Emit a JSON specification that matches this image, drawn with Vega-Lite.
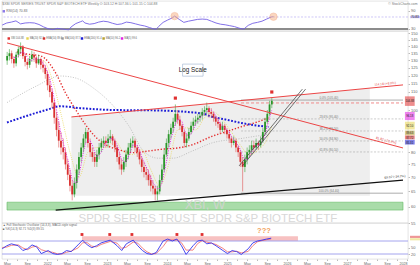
{
"$schema": "https://vega.github.io/schema/vega-lite/v6.json",
"padding": 0,
"background": "white",
"spacing": 0,
"bounds": "flush",
"config": {"view": {"stroke": "#d0d0d0", "strokeWidth": 0.6}, "axis": {"labelFont": "Liberation Sans", "labelFontSize": 4, "labelColor": "#666", "tickSize": 1.5, "tickColor": "#bbb", "domain": false, "grid": false, "labelPadding": 1}, "text": {"font": "Liberation Sans"}},
"datasets": {
"candles": [
{"d":"2021-04-02","o":130,"h":136,"l":127,"c":133},
{"d":"2021-04-16","o":133,"h":138,"l":130,"c":135},
{"d":"2021-04-30","o":135,"h":137,"l":128,"c":131},
{"d":"2021-05-14","o":131,"h":133,"l":125,"c":128,"m":132},
{"d":"2021-05-28","o":128,"h":136,"l":126,"c":134,"m":132},
{"d":"2021-06-11","o":134,"h":140,"l":132,"c":138,"m":133},
{"d":"2021-06-25","o":138,"h":143,"l":135,"c":140,"m":135},
{"d":"2021-07-09","o":140,"h":141,"l":131,"c":133,"m":136},
{"d":"2021-07-23","o":133,"h":135,"l":126,"c":129,"m":135},
{"d":"2021-08-06","o":129,"h":131,"l":124,"c":127,"m":132},
{"d":"2021-08-20","o":127,"h":133,"l":125,"c":131,"m":130},
{"d":"2021-09-03","o":131,"h":137,"l":129,"c":134,"m":130},
{"d":"2021-09-17","o":134,"h":136,"l":129,"c":132,"m":131},
{"d":"2021-10-01","o":132,"h":133,"l":125,"c":128,"m":131},
{"d":"2021-10-15","o":128,"h":134,"l":127,"c":131,"m":131},
{"d":"2021-10-29","o":131,"h":132,"l":124,"c":127,"m":130},
{"d":"2021-11-12","o":127,"h":130,"l":122,"c":125,"m":128},
{"d":"2021-11-26","o":125,"h":127,"l":118,"c":121,"m":126},
{"d":"2021-12-10","o":121,"h":123,"l":111,"c":114,"m":122},
{"d":"2021-12-24","o":114,"h":117,"l":107,"c":110,"m":118},
{"d":"2022-01-07","o":110,"h":112,"l":101,"c":104,"m":112},
{"d":"2022-01-21","o":104,"h":106,"l":93,"c":96,"m":106},
{"d":"2022-02-04","o":96,"h":99,"l":87,"c":90,"m":100},
{"d":"2022-02-18","o":90,"h":94,"l":82,"c":85,"m":94},
{"d":"2022-03-04","o":85,"h":89,"l":79,"c":82,"m":88},
{"d":"2022-03-18","o":82,"h":86,"l":77,"c":80,"m":84},
{"d":"2022-04-01","o":80,"h":82,"l":73,"c":75,"m":80},
{"d":"2022-04-15","o":75,"h":77,"l":69,"c":71,"m":77},
{"d":"2022-04-29","o":71,"h":73,"l":65,"c":67,"m":73},
{"d":"2022-05-13","o":67,"h":69,"l":62,"c":64,"m":69},
{"d":"2022-05-27","o":64,"h":70,"l":63,"c":68,"m":68},
{"d":"2022-06-10","o":68,"h":75,"l":66,"c":73,"m":68},
{"d":"2022-06-24","o":73,"h":80,"l":71,"c":78,"m":71},
{"d":"2022-07-08","o":78,"h":84,"l":76,"c":82,"m":75},
{"d":"2022-07-22","o":82,"h":88,"l":80,"c":86,"m":80},
{"d":"2022-08-05","o":86,"h":91,"l":84,"c":89,"m":84},
{"d":"2022-08-19","o":89,"h":90,"l":82,"c":84,"m":85},
{"d":"2022-09-02","o":84,"h":86,"l":78,"c":80,"m":85},
{"d":"2022-09-16","o":80,"h":82,"l":76,"c":78,"m":83},
{"d":"2022-09-30","o":78,"h":80,"l":74,"c":76,"m":80},
{"d":"2022-10-14","o":76,"h":81,"l":74,"c":79,"m":78},
{"d":"2022-10-28","o":79,"h":84,"l":77,"c":82,"m":79},
{"d":"2022-11-11","o":82,"h":86,"l":80,"c":84,"m":80},
{"d":"2022-11-25","o":84,"h":87,"l":82,"c":85,"m":82},
{"d":"2022-12-09","o":85,"h":87,"l":82,"c":84,"m":84},
{"d":"2022-12-23","o":84,"h":88,"l":82,"c":86,"m":85},
{"d":"2023-01-06","o":86,"h":90,"l":84,"c":87,"m":86},
{"d":"2023-01-20","o":87,"h":88,"l":83,"c":85,"m":86},
{"d":"2023-02-03","o":85,"h":86,"l":80,"c":82,"m":85},
{"d":"2023-02-17","o":82,"h":83,"l":76,"c":78,"m":83},
{"d":"2023-03-03","o":78,"h":80,"l":73,"c":75,"m":80},
{"d":"2023-03-17","o":75,"h":77,"l":71,"c":73,"m":77},
{"d":"2023-03-31","o":73,"h":78,"l":72,"c":76,"m":76},
{"d":"2023-04-14","o":76,"h":81,"l":74,"c":79,"m":76},
{"d":"2023-04-28","o":79,"h":84,"l":77,"c":82,"m":78},
{"d":"2023-05-12","o":82,"h":86,"l":80,"c":84,"m":80},
{"d":"2023-05-26","o":84,"h":87,"l":82,"c":85,"m":83},
{"d":"2023-06-09","o":85,"h":86,"l":80,"c":82,"m":83},
{"d":"2023-06-23","o":82,"h":83,"l":78,"c":80,"m":83},
{"d":"2023-07-07","o":80,"h":81,"l":75,"c":77,"m":81},
{"d":"2023-07-21","o":77,"h":78,"l":72,"c":74,"m":78},
{"d":"2023-08-04","o":74,"h":76,"l":70,"c":72,"m":76},
{"d":"2023-08-18","o":72,"h":74,"l":69,"c":71,"m":74},
{"d":"2023-09-01","o":71,"h":73,"l":67,"c":69,"m":72},
{"d":"2023-09-15","o":69,"h":71,"l":65,"c":67,"m":70},
{"d":"2023-09-29","o":67,"h":69,"l":64,"c":66,"m":68},
{"d":"2023-10-13","o":66,"h":67,"l":62,"c":64,"m":67},
{"d":"2023-10-27","o":64,"h":67,"l":62,"c":65,"m":66},
{"d":"2023-11-10","o":65,"h":71,"l":64,"c":69,"m":66},
{"d":"2023-11-24","o":69,"h":75,"l":68,"c":73,"m":68},
{"d":"2023-12-08","o":73,"h":81,"l":72,"c":79,"m":72},
{"d":"2023-12-22","o":79,"h":86,"l":78,"c":84,"m":76},
{"d":"2024-01-05","o":84,"h":90,"l":82,"c":88,"m":81},
{"d":"2024-01-19","o":88,"h":93,"l":86,"c":91,"m":86},
{"d":"2024-02-02","o":91,"h":96,"l":89,"c":94,"m":89},
{"d":"2024-02-16","o":94,"h":103,"l":92,"c":98,"m":93},
{"d":"2024-03-01","o":98,"h":100,"l":93,"c":95,"m":95},
{"d":"2024-03-15","o":95,"h":97,"l":90,"c":92,"m":95},
{"d":"2024-03-29","o":92,"h":93,"l":87,"c":89,"m":94},
{"d":"2024-04-12","o":89,"h":90,"l":82,"c":84,"m":90},
{"d":"2024-04-26","o":84,"h":88,"l":82,"c":86,"m":88},
{"d":"2024-05-10","o":86,"h":91,"l":85,"c":89,"m":87},
{"d":"2024-05-24","o":89,"h":94,"l":88,"c":92,"m":88},
{"d":"2024-06-07","o":92,"h":96,"l":90,"c":94,"m":90},
{"d":"2024-06-21","o":94,"h":97,"l":92,"c":95,"m":93},
{"d":"2024-07-05","o":95,"h":98,"l":93,"c":96,"m":94},
{"d":"2024-07-19","o":96,"h":99,"l":94,"c":97,"m":96},
{"d":"2024-08-02","o":97,"h":101,"l":95,"c":99,"m":97},
{"d":"2024-08-16","o":99,"h":102,"l":97,"c":100,"m":98},
{"d":"2024-08-30","o":100,"h":104,"l":98,"c":101,"m":99},
{"d":"2024-09-13","o":101,"h":102,"l":96,"c":99,"m":100},
{"d":"2024-09-27","o":99,"h":101,"l":96,"c":98,"m":100},
{"d":"2024-10-11","o":98,"h":99,"l":94,"c":96,"m":99},
{"d":"2024-10-25","o":96,"h":97,"l":92,"c":94,"m":97},
{"d":"2024-11-08","o":94,"h":96,"l":91,"c":93,"m":95},
{"d":"2024-11-22","o":93,"h":94,"l":88,"c":90,"m":93},
{"d":"2024-12-06","o":90,"h":94,"l":89,"c":92,"m":92},
{"d":"2024-12-20","o":92,"h":93,"l":88,"c":90,"m":91},
{"d":"2025-01-03","o":90,"h":91,"l":86,"c":88,"m":90},
{"d":"2025-01-17","o":88,"h":89,"l":84,"c":86,"m":89},
{"d":"2025-01-31","o":86,"h":87,"l":82,"c":84,"m":87},
{"d":"2025-02-14","o":84,"h":87,"l":83,"c":85,"m":86},
{"d":"2025-02-28","o":85,"h":86,"l":80,"c":82,"m":84},
{"d":"2025-03-14","o":82,"h":83,"l":78,"c":80,"m":83},
{"d":"2025-03-28","o":80,"h":81,"l":74,"c":76,"m":81},
{"d":"2025-04-11","o":76,"h":78,"l":65,"c":74,"m":78},
{"d":"2025-04-25","o":74,"h":79,"l":72,"c":77,"m":77},
{"d":"2025-05-09","o":77,"h":82,"l":75,"c":80,"m":77},
{"d":"2025-05-23","o":80,"h":83,"l":78,"c":81,"m":78},
{"d":"2025-06-06","o":81,"h":85,"l":79,"c":83,"m":80},
{"d":"2025-06-20","o":83,"h":85,"l":80,"c":82,"m":82},
{"d":"2025-07-04","o":82,"h":86,"l":81,"c":84,"m":83},
{"d":"2025-07-18","o":84,"h":85,"l":81,"c":83,"m":83},
{"d":"2025-08-01","o":83,"h":87,"l":82,"c":85,"m":84},
{"d":"2025-08-15","o":85,"h":91,"l":84,"c":89,"m":85},
{"d":"2025-08-29","o":89,"h":96,"l":88,"c":94,"m":88},
{"d":"2025-09-12","o":94,"h":100,"l":93,"c":98,"m":92},
{"d":"2025-09-26","o":98,"h":105,"l":97,"c":103,"m":96},
{"d":"2025-10-10","o":103,"h":107,"l":101,"c":105,"m":100}
],
"rsi": [
{"d":"2021-04-02","v":43},{"d":"2021-04-30","v":50},{"d":"2021-05-28","v":53},{"d":"2021-06-25","v":57},{"d":"2021-07-23","v":47},{"d":"2021-08-20","v":50},{"d":"2021-09-17","v":51},{"d":"2021-10-15","v":50},{"d":"2021-11-12","v":45},{"d":"2021-12-10","v":37},{"d":"2022-01-07","v":31},{"d":"2022-02-04","v":28},{"d":"2022-03-04","v":32},{"d":"2022-04-01","v":30},{"d":"2022-04-29","v":28},{"d":"2022-05-13","v":27},{"d":"2022-05-27","v":37},{"d":"2022-06-24","v":48},{"d":"2022-07-22","v":54},{"d":"2022-08-05","v":57},{"d":"2022-08-19","v":50},{"d":"2022-09-16","v":46},{"d":"2022-10-14","v":48},{"d":"2022-11-11","v":53},{"d":"2022-12-09","v":56},{"d":"2023-01-06","v":54},{"d":"2023-02-03","v":49},{"d":"2023-03-03","v":45},{"d":"2023-03-31","v":47},{"d":"2023-04-28","v":53},{"d":"2023-05-26","v":51},{"d":"2023-06-23","v":47},{"d":"2023-07-21","v":43},{"d":"2023-08-18","v":40},{"d":"2023-09-15","v":35},{"d":"2023-10-13","v":30},{"d":"2023-10-27","v":29},{"d":"2023-11-10","v":38},{"d":"2023-12-08","v":52},{"d":"2024-01-05","v":60},{"d":"2024-02-02","v":67},{"d":"2024-02-16","v":73},{"d":"2024-03-15","v":62},{"d":"2024-04-12","v":52},{"d":"2024-05-10","v":56},{"d":"2024-06-07","v":59},{"d":"2024-07-05","v":62},{"d":"2024-08-02","v":63},{"d":"2024-08-30","v":62},{"d":"2024-09-27","v":56},{"d":"2024-10-25","v":50},{"d":"2024-11-22","v":46},{"d":"2024-12-20","v":44},{"d":"2025-01-17","v":41},{"d":"2025-02-14","v":38},{"d":"2025-03-14","v":33},{"d":"2025-04-11","v":29},{"d":"2025-05-09","v":42},{"d":"2025-06-06","v":49},{"d":"2025-07-04","v":52},{"d":"2025-08-01","v":56},{"d":"2025-08-29","v":63},{"d":"2025-09-26","v":70},{"d":"2025-10-10","v":71}
],
"stoch": [
{"d":"2021-04-02","k":44,"s":50},{"d":"2021-04-30","k":58,"s":52},{"d":"2021-05-28","k":67,"s":60},{"d":"2021-07-09","k":58,"s":62},{"d":"2021-08-06","k":36,"s":48},{"d":"2021-09-03","k":44,"s":40},{"d":"2021-10-01","k":62,"s":52},{"d":"2021-10-29","k":53,"s":56},{"d":"2021-11-26","k":22,"s":40},{"d":"2022-01-07","k":36,"s":30},{"d":"2022-02-04","k":22,"s":28},{"d":"2022-03-04","k":18,"s":21},{"d":"2022-04-01","k":22,"s":20},{"d":"2022-04-29","k":36,"s":28},{"d":"2022-05-27","k":31,"s":33},{"d":"2022-07-08","k":62,"s":48},{"d":"2022-08-05","k":84,"s":72},{"d":"2022-09-02","k":62,"s":72},{"d":"2022-09-30","k":49,"s":56},{"d":"2022-10-28","k":58,"s":53},{"d":"2022-11-25","k":71,"s":64},{"d":"2023-01-20","k":84,"s":78},{"d":"2023-03-03","k":58,"s":70},{"d":"2023-03-31","k":36,"s":46},{"d":"2023-04-28","k":67,"s":52},{"d":"2023-06-09","k":84,"s":75},{"d":"2023-07-07","k":58,"s":70},{"d":"2023-08-04","k":36,"s":47},{"d":"2023-09-01","k":22,"s":30},{"d":"2023-09-29","k":18,"s":20},{"d":"2023-10-27","k":27,"s":22},{"d":"2023-12-08","k":80,"s":55},{"d":"2024-01-05","k":89,"s":84},{"d":"2024-02-02","k":80,"s":85},{"d":"2024-03-01","k":89,"s":85},{"d":"2024-03-29","k":58,"s":72},{"d":"2024-04-26","k":18,"s":38},{"d":"2024-06-07","k":58,"s":38},{"d":"2024-07-05","k":80,"s":68},{"d":"2024-08-02","k":84,"s":82},{"d":"2024-08-30","k":67,"s":75},{"d":"2024-09-27","k":71,"s":70},{"d":"2024-10-25","k":58,"s":64},{"d":"2024-12-06","k":36,"s":46},{"d":"2025-01-03","k":22,"s":30},{"d":"2025-01-31","k":36,"s":30},{"d":"2025-02-28","k":31,"s":33},{"d":"2025-03-28","k":18,"s":25},{"d":"2025-05-09","k":44,"s":32},{"d":"2025-06-06","k":71,"s":58},{"d":"2025-07-04","k":80,"s":76},{"d":"2025-08-01","k":84,"s":82},{"d":"2025-08-29","k":89,"s":86},{"d":"2025-09-26","k":93,"s":90}
],
"maBlue": [
{"d":"2021-04-01","v":93.6},{"d":"2021-12-01","v":100},{"d":"2022-03-02","v":102},{"d":"2022-07-02","v":101},{"d":"2023-02-01","v":100},{"d":"2023-10-01","v":99.8},{"d":"2024-08-01","v":98.2},{"d":"2024-10-01","v":96.5},{"d":"2025-01-01","v":95},{"d":"2025-04-01","v":93.4},{"d":"2025-09-19","v":91.4}
],
"maRed": [
{"d":"2021-06-01","v":136},{"d":"2021-08-01","v":134.5},{"d":"2021-10-31","v":133},{"d":"2022-01-30","v":121.6},{"d":"2022-04-01","v":109.5},{"d":"2022-06-01","v":100.5},{"d":"2022-08-01","v":92.9},{"d":"2022-10-01","v":87.1},{"d":"2022-12-01","v":83.5},{"d":"2023-03-02","v":81},{"d":"2023-06-01","v":79.8},{"d":"2023-09-01","v":80.5},{"d":"2023-12-01","v":81.3},{"d":"2024-03-01","v":81.8},{"d":"2024-06-01","v":83.2},{"d":"2024-10-01","v":87},{"d":"2025-01-01","v":89.2},{"d":"2025-04-01","v":91.5},{"d":"2025-07-02","v":93.6},{"d":"2025-09-19","v":96}
],
"maGray": [
{"d":"2021-04-01","v":104},{"d":"2021-10-01","v":113.5},{"d":"2022-03-02","v":119.7},{"d":"2022-06-01","v":118.5},{"d":"2022-10-01","v":111.7},{"d":"2023-02-01","v":101.5},{"d":"2023-05-02","v":91.9},{"d":"2023-08-01","v":80.5},{"d":"2023-11-01","v":77.5},{"d":"2024-01-31","v":77.5},{"d":"2024-06-01","v":80.5},{"d":"2024-10-01","v":84},{"d":"2025-04-01","v":86},{"d":"2025-09-19","v":88}
],
"maYellow": [
{"d":"2021-05-28","v":132},{"d":"2021-07-23","v":134},{"d":"2021-09-17","v":131},{"d":"2021-11-12","v":130},{"d":"2022-01-07","v":118},{"d":"2022-03-04","v":98},{"d":"2022-04-29","v":80},{"d":"2022-06-24","v":70},{"d":"2022-08-19","v":80},{"d":"2022-10-14","v":82},{"d":"2022-12-09","v":82},{"d":"2023-02-03","v":85},{"d":"2023-03-31","v":80},{"d":"2023-05-26","v":79},{"d":"2023-07-21","v":81},{"d":"2023-09-15","v":73},{"d":"2023-11-10","v":67},{"d":"2024-01-05","v":75},{"d":"2024-03-01","v":90},{"d":"2024-04-26","v":91},{"d":"2024-06-21","v":90},{"d":"2024-08-16","v":96},{"d":"2024-10-11","v":99},{"d":"2024-12-06","v":95},{"d":"2025-01-31","v":89},{"d":"2025-03-28","v":83},{"d":"2025-05-23","v":79},{"d":"2025-07-18","v":81},{"d":"2025-09-12","v":86},{"d":"2025-10-10","v":92}
],
"trend": [
{"name":"rd","d":"2021-04-01","v":142.6},{"name":"rd","d":"2028-01-07","v":81.8},
{"name":"ru","d":"2022-05-08","v":96.4},{"name":"ru","d":"2028-01-07","v":114.2},
{"name":"bk","d":"2022-01-30","v":58.9},{"name":"bk","d":"2028-01-07","v":69.0},
{"name":"s1","d":"2025-03-20","v":74.4},{"name":"s1","d":"2026-04-19","v":111.7},
{"name":"s2","d":"2025-04-10","v":74.4},{"name":"s2","d":"2026-05-09","v":111.7}
],
"fibSolid": [{"d":"2025-04-01","d2":"2028-01-07","v":105.4,"t":"0.0% (105.40)"},{"d":"2025-04-01","d2":"2028-01-07","v":64.4,"t":"100.0% (64.40)"}],
"fibDash": [{"d":"2025-04-01","d2":"2028-01-07","v":95.4,"t":"23.6% (95.40)"},{"d":"2025-04-01","d2":"2028-01-07","v":89.5,"t":"38.2% (89.50)"},{"d":"2025-04-01","d2":"2028-01-07","v":84.9,"t":"50.0% (84.90)"},{"d":"2025-04-01","d2":"2028-01-07","v":80.1,"t":"61.8% (80.10)"}],
"legendMain": [
{"d":"2021-04-12","v":146,"k":"a","t":"XBI 104.88"},
{"d":"2021-08-07","v":146,"k":"b","t":"MA(20) 92.1"},
{"d":"2021-11-18","v":146,"k":"c","t":"EMA(50) 89.6"},
{"d":"2022-03-14","v":146,"k":"d","t":"MA(100) 87.7"},
{"d":"2022-07-13","v":146,"k":"e","t":"EMA(200) 91.4"},
{"d":"2022-11-25","v":146,"k":"f","t":"MA(10) 96.2"},
{"d":"2023-03-20","v":146,"k":"g","t":"MA(5) 99.6"}
],
"priceTags": [
{"d":"2028-01-19","d2":"2028-03-20","lo":102.2,"hi":107.5,"v":104.88,"k":"a","t":"104.88"},
{"d":"2028-01-19","d2":"2028-03-20","lo":94.8,"hi":99.0,"v":96.9,"k":"g","t":"96.18"},
{"d":"2028-01-19","d2":"2028-03-20","lo":90.2,"hi":94.0,"v":92.1,"k":"b","t":"92.10"},
{"d":"2028-01-19","d2":"2028-03-20","lo":87.5,"hi":89.7,"v":88.6,"k":"f","t":"89.63"},
{"d":"2028-01-19","d2":"2028-03-20","lo":85.6,"hi":87.4,"v":86.5,"k":"c","t":"87.72"},
{"d":"2028-01-19","d2":"2028-03-20","lo":83.3,"hi":85.4,"v":84.3,"k":"e","t":"85.31"}
]
},
"vconcat": [
{
"width": 406, "height": 30,
"layer": [
{"data": {"values": [{"v": 70}]}, "mark": {"type": "rule", "color": "#b9aef2", "strokeDash": [2, 1.5], "strokeWidth": 0.7}, "encoding": {"y": {"field": "v", "type": "quantitative", "scale": {"domain": [23.3, 123.3], "nice": false}, "axis": {"orient": "right", "values": [30, 50, 90], "title": null}}}},
{"data": {"values": [{"v": 30}]}, "mark": {"type": "rule", "color": "#8c8c8c", "strokeWidth": 2}, "encoding": {"y": {"field": "v", "type": "quantitative"}}},
{"data": {"name": "rsi"}, "mark": {"type": "line", "color": "#7460e4", "strokeWidth": 0.9}, "encoding": {"x": {"field": "d", "type": "temporal", "scale": {"domain": ["2021-04-01", "2028-01-07"]}, "axis": null}, "y": {"field": "v", "type": "quantitative"}}},
{"data": {"values": [{"d": "2024-02-16", "v": 73}, {"d": "2025-10-10", "v": 71}]}, "mark": {"type": "point", "filled": true, "shape": "circle", "size": 55, "color": "#f6b58c", "opacity": 0.55, "stroke": "#ef8a55", "strokeWidth": 0.6}, "encoding": {"x": {"field": "d", "type": "temporal"}, "y": {"field": "v", "type": "quantitative"}}},
{"data": {"values": [{"d": "2028-01-19", "d2": "2028-03-20", "lo": 66, "hi": 74, "v": 70, "t": "70.83"}]}, "mark": {"type": "rect", "color": "#cbc2fa"}, "encoding": {"x": {"field": "d", "type": "temporal"}, "x2": {"field": "d2"}, "y": {"field": "lo", "type": "quantitative"}, "y2": {"field": "hi"}}},
{"data": {"values": [{"d": "2028-02-18", "v": 70, "t": "70.83"}]}, "mark": {"type": "text", "fontSize": 3.2, "color": "#222"}, "encoding": {"x": {"field": "d", "type": "temporal"}, "y": {"field": "v", "type": "quantitative"}, "text": {"field": "t"}}},
{"data": {"values": [{"d": "2021-04-03", "v": 114, "t": "$XBI SPDR SERIES TRUST SPDR S&P BIOTECH ETF  Weekly  O:103.12 H:107.36 L:101.15 C:104.88"}]}, "mark": {"type": "text", "align": "left", "fontSize": 3.4, "color": "#777"}, "encoding": {"x": {"field": "d", "type": "temporal"}, "y": {"field": "v", "type": "quantitative"}, "text": {"field": "t"}}},
{"data": {"values": [{"d": "2027-12-07", "v": 114, "t": "© StockCharts.com"}]}, "mark": {"type": "text", "align": "center", "fontSize": 3.4, "color": "#777"}, "encoding": {"x": {"field": "d", "type": "temporal"}, "y": {"field": "v", "type": "quantitative"}, "text": {"field": "t"}}},
{"data": {"values": [{"d": "2021-04-12", "v": 89, "t": "RSI(14) 70.83"}]}, "mark": {"type": "point", "shape": "square", "filled": true, "size": 6, "color": "#5a3ee0"}, "encoding": {"x": {"field": "d", "type": "temporal"}, "y": {"field": "v", "type": "quantitative"}}},
{"data": {"values": [{"d": "2021-04-12", "v": 89, "t": "RSI(14) 70.83"}]}, "mark": {"type": "text", "align": "left", "dx": 2.5, "fontSize": 3.4, "color": "#666"}, "encoding": {"x": {"field": "d", "type": "temporal"}, "y": {"field": "v", "type": "quantitative"}, "text": {"field": "t"}}}
]
},
{
"width": 406, "height": 192,
"layer": [
{"data": {"values": [{"d": "2022-05-08", "top": 96.4, "bot": 63.5}, {"d": "2027-06-14", "top": 112.2, "bot": 63.5}]}, "mark": {"type": "area", "color": "#eeeeee"}, "encoding": {"x": {"field": "d", "type": "temporal", "scale": {"domain": ["2021-04-01", "2028-01-07"]}, "axis": null}, "y": {"field": "top", "type": "quantitative", "scale": {"type": "log", "domain": [55, 151.9], "nice": false}, "axis": {"orient": "right", "values": [55, 60, 65, 70, 75, 80, 100, 110, 115, 120, 125, 130, 135, 140, 145, 150], "format": "d", "title": null}}, "y2": {"field": "bot"}}},
{"data": {"values": [{"d": "2021-04-01", "d2": "2028-01-07", "v": 58.9, "v2": 61.4}]}, "mark": {"type": "rect", "color": "#a9dca9", "stroke": "#62b862", "strokeWidth": 0.6}, "encoding": {"x": {"field": "d", "type": "temporal"}, "x2": {"field": "d2"}, "y": {"field": "v", "type": "quantitative"}, "y2": {"field": "v2"}}},
{"data": {"values": [{"d": "2024-08-19", "v": 60.6, "t": "XBI, W"}]}, "mark": {"type": "text", "fontSize": 13, "color": "#d4d4d4", "opacity": 0.85}, "encoding": {"x": {"field": "d", "type": "temporal"}, "y": {"field": "v", "type": "quantitative"}, "text": {"field": "t"}}},
{"data": {"values": [{"d": "2024-09-06", "v": 56.3, "t": "SPDR SERIES TRUST   SPDR S&P BIOTECH ETF"}]}, "mark": {"type": "text", "fontSize": 11.5, "color": "#d8d8d8"}, "encoding": {"x": {"field": "d", "type": "temporal"}, "y": {"field": "v", "type": "quantitative"}, "text": {"field": "t"}}},
{"data": {"name": "fibSolid"}, "mark": {"type": "rule", "color": "#8a8a8a", "strokeWidth": 0.7}, "encoding": {"x": {"field": "d", "type": "temporal"}, "x2": {"field": "d2"}, "y": {"field": "v", "type": "quantitative"}}},
{"data": {"name": "fibDash"}, "mark": {"type": "rule", "color": "#9a9a9a", "strokeWidth": 0.5, "strokeDash": [2, 1.5]}, "encoding": {"x": {"field": "d", "type": "temporal"}, "x2": {"field": "d2"}, "y": {"field": "v", "type": "quantitative"}}},
{"data": {"values": [{"d": "2025-04-01", "d2": "2028-01-07", "v": 103.8}]}, "mark": {"type": "rule", "color": "#f08a8a", "strokeWidth": 1, "strokeDash": [3, 2]}, "encoding": {"x": {"field": "d", "type": "temporal"}, "x2": {"field": "d2"}, "y": {"field": "v", "type": "quantitative"}}},
{"data": {"name": "fibSolid"}, "mark": {"type": "text", "fontSize": 3, "color": "#777", "dy": -2.5}, "encoding": {"x": {"datum": {"year": 2026, "month": 10, "date": 1}, "type": "temporal"}, "y": {"field": "v", "type": "quantitative"}, "text": {"field": "t"}}},
{"data": {"name": "fibDash"}, "mark": {"type": "text", "fontSize": 3, "color": "#777", "dy": -2.5}, "encoding": {"x": {"datum": {"year": 2026, "month": 10, "date": 1}, "type": "temporal"}, "y": {"field": "v", "type": "quantitative"}, "text": {"field": "t"}}},
{"data": {"name": "maGray"}, "mark": {"type": "line", "color": "#a8a8a8", "strokeWidth": 0.7, "strokeDash": [1, 1.5], "interpolate": "monotone"}, "encoding": {"x": {"field": "d", "type": "temporal"}, "y": {"field": "v", "type": "quantitative"}}},
{"data": {"name": "maYellow"}, "mark": {"type": "line", "color": "#e6d44e", "strokeWidth": 0.7, "strokeDash": [1, 1.2], "interpolate": "monotone"}, "encoding": {"x": {"field": "d", "type": "temporal"}, "y": {"field": "v", "type": "quantitative"}}},
{"data": {"name": "maRed"}, "mark": {"type": "line", "color": "#e42a2a", "strokeWidth": 1.4, "strokeDash": [1.3, 1.8], "interpolate": "monotone"}, "encoding": {"x": {"field": "d", "type": "temporal"}, "y": {"field": "v", "type": "quantitative"}}},
{"data": {"name": "maBlue"}, "mark": {"type": "line", "color": "#1c1cd6", "strokeWidth": 2, "strokeDash": [1.8, 1.6], "interpolate": "monotone"}, "encoding": {"x": {"field": "d", "type": "temporal"}, "y": {"field": "v", "type": "quantitative"}}},
{"data": {"name": "candles"}, "mark": {"type": "rule", "strokeWidth": 0.8, "opacity": 0.8}, "encoding": {"x": {"field": "d", "type": "temporal"}, "y": {"field": "l", "type": "quantitative"}, "y2": {"field": "h"}, "color": {"condition": {"test": "datum.c >= datum.o", "value": "#4aa84a"}, "value": "#e06060"}}},
{"data": {"name": "candles"}, "mark": {"type": "bar", "size": 1.8}, "encoding": {"x": {"field": "d", "type": "temporal"}, "y": {"field": "o", "type": "quantitative"}, "y2": {"field": "c"}, "color": {"condition": {"test": "datum.c >= datum.o", "value": "#2a962a"}, "value": "#d92f2f"}}},
{"data": {"name": "candles"}, "mark": {"type": "line", "color": "#e21fe2", "strokeWidth": 1, "strokeDash": [1, 1.4]}, "encoding": {"x": {"field": "d", "type": "temporal"}, "y": {"field": "m", "type": "quantitative"}}},
{"data": {"name": "trend"}, "transform": [{"filter": "datum.name === 'rd' || datum.name === 'ru'"}], "mark": {"type": "line", "color": "#ec4646", "strokeWidth": 1}, "encoding": {"x": {"field": "d", "type": "temporal"}, "y": {"field": "v", "type": "quantitative"}, "detail": {"field": "name"}}},
{"data": {"name": "trend"}, "transform": [{"filter": "datum.name === 'bk'"}], "mark": {"type": "line", "color": "#111111", "strokeWidth": 1.3}, "encoding": {"x": {"field": "d", "type": "temporal"}, "y": {"field": "v", "type": "quantitative"}}},
{"data": {"name": "trend"}, "transform": [{"filter": "datum.name === 's1' || datum.name === 's2'"}], "mark": {"type": "line", "color": "#3a3a3a", "strokeWidth": 0.7}, "encoding": {"x": {"field": "d", "type": "temporal"}, "y": {"field": "v", "type": "quantitative"}, "detail": {"field": "name"}}},
{"data": {"values": [{"d": "2024-02-16", "v": 106.5}, {"d": "2025-10-10", "v": 110}]}, "mark": {"type": "point", "shape": "square", "filled": true, "size": 10, "color": "#e03030", "opacity": 1}, "encoding": {"x": {"field": "d", "type": "temporal"}, "y": {"field": "v", "type": "quantitative"}}},
{"data": {"values": [{"d": "2024-04-01", "d2": "2024-08-07", "v": 119.6, "v2": 127.5}]}, "mark": {"type": "rect", "fill": "white", "stroke": "#a9bcd6", "strokeWidth": 0.7}, "encoding": {"x": {"field": "d", "type": "temporal"}, "x2": {"field": "d2"}, "y": {"field": "v", "type": "quantitative"}, "y2": {"field": "v2"}}},
{"data": {"values": [{"d": "2024-06-04", "v": 123.5, "t": "Log Scale"}]}, "mark": {"type": "text", "fontSize": 6.3, "color": "#222"}, "encoding": {"x": {"field": "d", "type": "temporal"}, "y": {"field": "v", "type": "quantitative"}, "text": {"field": "t"}}},
{"data": {"name": "legendMain"}, "mark": {"type": "point", "shape": "square", "filled": true, "size": 6, "opacity": 1}, "encoding": {"x": {"field": "d", "type": "temporal"}, "y": {"field": "v", "type": "quantitative"}, "color": {"field": "k", "type": "nominal", "scale": {"domain": ["a", "b", "c", "d", "e", "f", "g"], "range": ["#e03030", "#e6d44e", "#e42a2a", "#a0a0a0", "#1c1cd6", "#b8a030", "#e21fe2"]}, "legend": null}}},
{"data": {"name": "legendMain"}, "mark": {"type": "text", "align": "left", "dx": 2.2, "fontSize": 2.6, "color": "#666"}, "encoding": {"x": {"field": "d", "type": "temporal"}, "y": {"field": "v", "type": "quantitative"}, "text": {"field": "t"}}},
{"data": {"name": "priceTags"}, "mark": {"type": "rect", "opacity": 0.55}, "encoding": {"x": {"field": "d", "type": "temporal"}, "x2": {"field": "d2"}, "y": {"field": "lo", "type": "quantitative"}, "y2": {"field": "hi"}, "color": {"field": "k", "type": "nominal", "legend": null}}},
{"data": {"name": "priceTags"}, "mark": {"type": "text", "fontSize": 2.8, "color": "#222"}, "encoding": {"x": {"datum": {"year": 2028, "month": 2, "date": 18}, "type": "temporal"}, "y": {"field": "v", "type": "quantitative"}, "text": {"field": "t"}}},
{"data": {"values": [{"d": "2027-09-19", "v": 83.9, "t": "81.82 (-21.9%)"}]}, "mark": {"type": "text", "fontSize": 3.2, "color": "#e04040", "angle": 14.5, "dy": -3}, "encoding": {"x": {"field": "d", "type": "temporal"}, "y": {"field": "v", "type": "quantitative"}, "text": {"field": "t"}}},
{"data": {"values": [{"d": "2027-09-19", "v": 113.2, "t": "114.18 (+8.9%)"}]}, "mark": {"type": "text", "fontSize": 3.2, "color": "#e04040", "angle": -5.4, "dy": -3}, "encoding": {"x": {"field": "d", "type": "temporal"}, "y": {"field": "v", "type": "quantitative"}, "text": {"field": "t"}}},
{"data": {"values": [{"d": "2027-11-19", "v": 69.2, "t": "69.02 (-34.2%)"}]}, "mark": {"type": "text", "fontSize": 3.2, "color": "#333", "angle": -5, "dy": -3}, "encoding": {"x": {"field": "d", "type": "temporal"}, "y": {"field": "v", "type": "quantitative"}, "text": {"field": "t"}}}
]
},
{
"width": 406, "height": 36,
"layer": [
{"data": {"values": [{"d": "2022-08-01", "d2": "2026-03-08", "v": 80, "v2": 102}]}, "mark": {"type": "rect", "color": "#f4a6a6", "opacity": 0.7}, "encoding": {"x": {"field": "d", "type": "temporal", "scale": {"domain": ["2021-04-01", "2028-01-07"]}, "axis": {"orient": "bottom", "tickCount": {"interval": "month", "step": 2}, "labelExpr": "month(datum.value) === 0 ? timeFormat(datum.value, '%Y') : timeFormat(datum.value, '%b')", "title": null, "labelFontSize": 3.6}}, "x2": {"field": "d2"}, "y": {"field": "v", "type": "quantitative", "scale": {"domain": [-3, 163], "nice": false}, "axis": {"orient": "right", "values": [20, 50], "title": null}}, "y2": {"field": "v2"}}},
{"data": {"values": [{"v": 80}, {"v": 20}]}, "mark": {"type": "rule", "color": "#a4a4ee", "strokeWidth": 1}, "encoding": {"y": {"field": "v", "type": "quantitative"}}},
{"data": {"name": "stoch"}, "mark": {"type": "line", "color": "#f06464", "strokeWidth": 0.8}, "encoding": {"x": {"field": "d", "type": "temporal"}, "y": {"field": "s", "type": "quantitative"}}},
{"data": {"name": "stoch"}, "mark": {"type": "line", "color": "#3434ee", "strokeWidth": 0.9}, "encoding": {"x": {"field": "d", "type": "temporal"}, "y": {"field": "k", "type": "quantitative"}}},
{"data": {"values": [{"d": "2028-01-19", "d2": "2028-03-20", "lo": 94, "hi": 104, "k": "k"}, {"d": "2028-01-19", "d2": "2028-03-20", "lo": 83, "hi": 93, "k": "s"}]}, "mark": {"type": "rect", "opacity": 0.5}, "encoding": {"x": {"field": "d", "type": "temporal"}, "x2": {"field": "d2"}, "y": {"field": "lo", "type": "quantitative"}, "y2": {"field": "hi"}, "color": {"field": "k", "type": "nominal", "scale": {"domain": ["k", "s"], "range": ["#9c9cf6", "#f6a0a0"]}, "legend": null}}},
{"data": {"values": [{"d": "2022-08-01", "v": 110}, {"d": "2023-01-17", "v": 110}, {"d": "2023-06-01", "v": 110}, {"d": "2024-03-01", "v": 110}, {"d": "2024-08-01", "v": 110}]}, "mark": {"type": "point", "shape": "square", "filled": true, "size": 8, "color": "#e03030", "opacity": 1}, "encoding": {"x": {"field": "d", "type": "temporal"}, "y": {"field": "v", "type": "quantitative"}}},
{"data": {"values": [{"d": "2025-08-13", "v": 127, "t": "???"}]}, "mark": {"type": "text", "fontSize": 7.5, "fontWeight": "bold", "color": "#f2a15a"}, "encoding": {"x": {"field": "d", "type": "temporal"}, "y": {"field": "v", "type": "quantitative"}, "text": {"field": "t"}}},
{"data": {"values": [{"d": "2021-04-05", "v": 156, "t": "▲ Full Stochastic Oscillator (14,3,3), MACD-style signal"}, {"d": "2021-04-05", "v": 136, "t": "■ %K(14,3) 92.71  %D(3) 89.55"}]}, "mark": {"type": "text", "align": "left", "fontSize": 3, "color": "#666"}, "encoding": {"x": {"field": "d", "type": "temporal"}, "y": {"field": "v", "type": "quantitative"}, "text": {"field": "t"}}}
]
}
]
}
